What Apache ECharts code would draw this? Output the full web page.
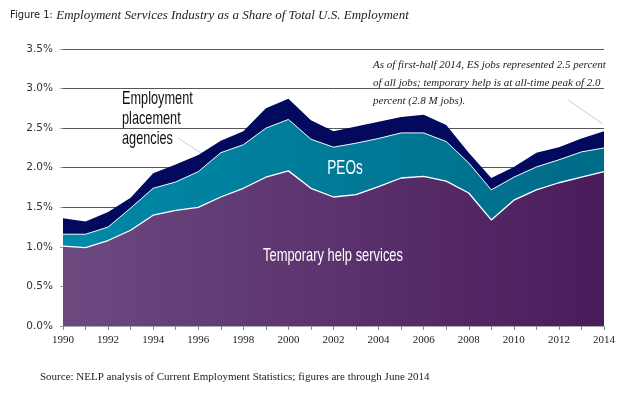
<!DOCTYPE html>
<html><head><meta charset="utf-8">
<script src="https://cdn.jsdelivr.net/npm/echarts@6/dist/echarts.min.js"></script>
<style>html,body{margin:0;padding:0;background:#fff}#c{width:644px;height:398px}</style>
</head><body><div id="c"></div>
<script>
const years = ['1990','1991','1992','1993','1994','1995','1996','1997','1998','1999','2000','2001','2002','2003','2004','2005','2006','2007','2008','2009','2010','2011','2012','2013','2014'];
const temporaryHelp = [1.01,0.99,1.08,1.21,1.40,1.46,1.50,1.63,1.74,1.88,1.96,1.74,1.63,1.66,1.76,1.87,1.89,1.83,1.68,1.34,1.59,1.72,1.81,1.88,1.95];
const peos = [0.15,0.17,0.17,0.28,0.34,0.36,0.45,0.56,0.55,0.62,0.65,0.62,0.63,0.65,0.61,0.57,0.55,0.50,0.38,0.38,0.29,0.29,0.29,0.32,0.30];
const placement = [0.20,0.16,0.19,0.13,0.19,0.22,0.21,0.15,0.17,0.25,0.26,0.24,0.20,0.21,0.21,0.20,0.23,0.21,0.13,0.15,0.13,0.18,0.16,0.17,0.21];
const yTicks = [0,0.5,1.0,1.5,2.0,2.5,3.0,3.5];

const chart = echarts.init(document.getElementById('c'), null, {renderer:'canvas'});
const grad = (a,b)=>({type:'linear',x:0,y:0,x2:1,y2:0,colorStops:[{offset:0,color:a},{offset:1,color:b}]});
const serif = '"Liberation Serif","DejaVu Serif",serif';
const narrow = '"Liberation Sans Narrow","DejaVu Sans Condensed","Liberation Sans",sans-serif';
chart.setOption({
  animation:false,
  grid:{left:63,right:40,top:49,bottom:72},
  xAxis:{type:'category',data:years,boundaryGap:false,
    axisLine:{lineStyle:{color:'#aaa'}},
    axisTick:{interval:0,length:4,lineStyle:{color:'#888'}},
    axisLabel:{interval:1,color:'#222',fontFamily:serif,fontSize:11,margin:9},
    splitLine:{show:false}},
  yAxis:{type:'value',min:yTicks[0],max:yTicks[yTicks.length-1],interval:0.5,
    axisLine:{show:false},
    axisTick:{show:true,length:3,lineStyle:{color:'#999'}},
    axisLabel:{color:'#333',fontFamily:'"DejaVu Sans",sans-serif',fontSize:10.5,margin:10,
      formatter:v=>v.toFixed(1)+'%'},
    splitLine:{lineStyle:{color:'#555',width:1}}},
  series:[
    {name:'Temporary help services',type:'line',stack:'s',data:temporaryHelp,symbol:'none',z:4,
      lineStyle:{color:'#fff',width:1.3},areaStyle:{color:grad('#6c4a80','#4a1b5b'),opacity:1}},
    {name:'PEOs',type:'line',stack:'s',data:peos,symbol:'none',z:3,
      lineStyle:{color:'#e8f4f8',width:1},areaStyle:{color:grad('#008aa9','#006b88'),opacity:1}},
    {name:'Employment placement agencies',type:'line',stack:'s',data:placement,symbol:'none',z:2,
      lineStyle:{width:0},areaStyle:{color:'#030a5e',opacity:1}}
  ],
  graphic:[
    {type:'text',z:100,left:10,top:9,style:{text:'{a|Figure 1:} {b|Employment Services Industry as a Share of Total U.S. Employment}',
      rich:{a:{fontFamily:narrow,fontSize:11,fill:'#222'},b:{fontFamily:serif,fontStyle:'italic',fontSize:13,fill:'#222'}}}},
    {type:'text',z:100,left:373,top:56,style:{text:'As of first-half 2014, ES jobs represented 2.5 percent\nof all jobs; temporary help is at all-time peak of 2.0\npercent (2.8 M jobs).',
      fontFamily:serif,fontStyle:'italic',fontSize:11,lineHeight:18,fill:'#222'}},
    {type:'line',z:100,shape:{x1:568,y1:100,x2:603,y2:124},style:{stroke:'#ccc',lineWidth:1}},
    {type:'text',z:100,left:122,top:89,scaleX:0.67,style:{text:'Employment\nplacement\nagencies',fontFamily:'"Liberation Sans",sans-serif',fontSize:19,lineHeight:20,fill:'#111'}},
    {type:'line',z:100,shape:{x1:178,y1:138,x2:201,y2:153},style:{stroke:'#ccc',lineWidth:1}},
    {type:'text',z:100,x:345,y:168,scaleX:0.68,style:{text:'PEOs',fontFamily:'"Liberation Sans",sans-serif',fontSize:20,fill:'#fff',align:'center',verticalAlign:'middle'}},
    {type:'text',z:100,x:333,y:256,scaleX:0.68,style:{text:'Temporary help services',fontFamily:'"Liberation Sans",sans-serif',fontSize:19,fill:'#fff',align:'center',verticalAlign:'middle'}},
    {type:'text',z:100,left:40,top:372,style:{text:'Source: NELP analysis of Current Employment Statistics; figures are through June 2014',fontFamily:serif,fontSize:11,fill:'#222'}}
  ]
});
</script></body></html>
